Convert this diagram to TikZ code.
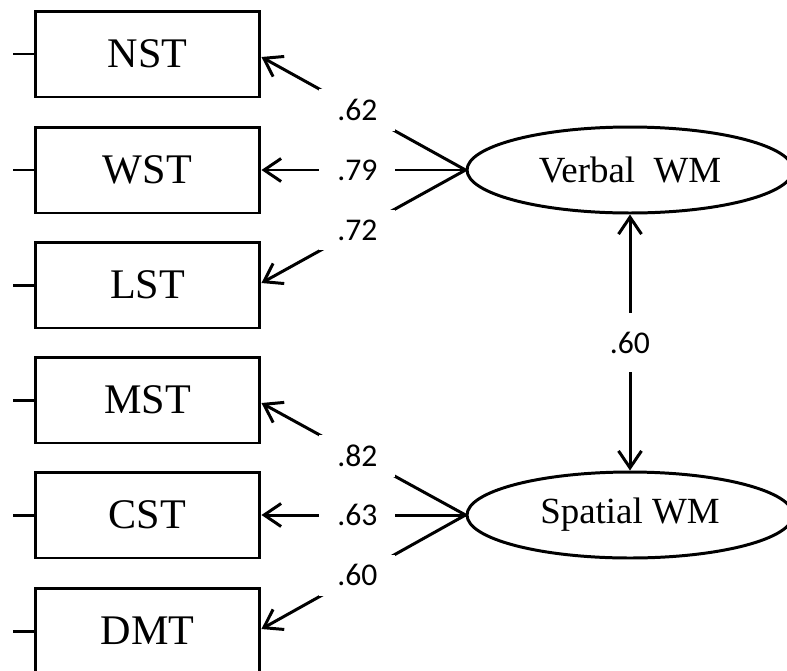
\documentclass[tikz,border=0pt]{standalone}
\usepackage{fontspec}
\setmainfont{Liberation Serif}
\newfontfamily\numfont{Carlito}
\usetikzlibrary{arrows.meta,shapes.geometric}

\tikzset{
  task/.style={draw, line width=1.7pt, minimum width=4.5cm, minimum height=1.72cm,
    inner sep=0pt, font=\fontsize{24}{28}\selectfont},
  factor/.style={draw, ellipse, line width=1.7pt, minimum width=6.52cm, minimum height=1.72cm,
    inner sep=0pt, font=\fontsize{21}{25}\selectfont},
  load/.style={fill=white, inner xsep=0.36cm, inner ysep=0.2cm, font=\numfont\fontsize{18}{21}\selectfont},
  barb/.tip={Straight Barb[length=0.34cm, width=0.46cm, line width=1.7pt]},
  path/.style={line width=1.7pt, -barb},
}

\begin{document}
\begin{tikzpicture}[x=0.02cm, y=-0.02cm]
    \useasboundingbox (0,0) rectangle (787,670);

    \node[task] (nst) at (147.5,54) {NST};
    \node[task] (wst) at (147.5,170) {WST};
    \node[task] (lst) at (147.5,285) {LST};
    \node[task] (mst) at (147.5,400) {MST};
    \node[task] (cst) at (147.5,515) {CST};
    \node[task] (dmt) at (147.5,631) {DMT};

    \node[factor] (verbal) at (630,170) {Verbal\ \ WM};
    \node[factor] (spatial) at (630,515) {Spatial WM};

    % error stubs
    \foreach \t in {nst,wst,lst,mst,cst,dmt}
      \draw[line width=1.7pt] (\t.west) -- +(-21,0);

    % loadings
    \draw[path] (verbal.west) -- node[load, pos=0.53] {.62} ([yshift=-0.06cm]nst.east);
    \draw[path] (verbal.west) -- node[load, pos=0.53] {.79} (wst.east);
    \draw[path] (verbal.west) -- node[load, pos=0.53] {.72} ([yshift=0.04cm]lst.east);
    \draw[path] (spatial.west) -- node[load, pos=0.53] {.82} ([yshift=-0.06cm]mst.east);
    \draw[path] (spatial.west) -- node[load, pos=0.53] {.63} (cst.east);
    \draw[path] (spatial.west) -- node[load, pos=0.53] {.60} ([yshift=0.04cm]dmt.east);

    % correlation
    \draw[path, barb-barb] (verbal.south) -- node[load, inner ysep=0.38cm] {.60} (spatial.north);
\end{tikzpicture}
\end{document}
